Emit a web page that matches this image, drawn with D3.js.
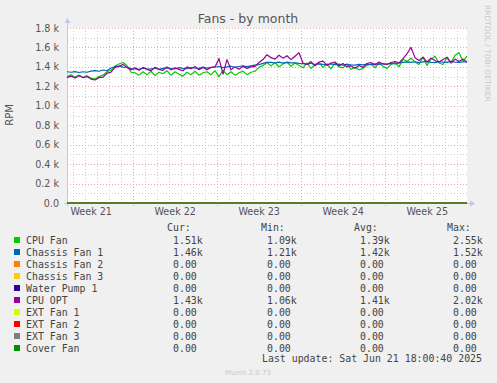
<!DOCTYPE html>
<html>
<head>
<meta charset="utf-8">
<script src="https://cdn.jsdelivr.net/npm/d3@7"></script>
<style>
  html, body { margin: 0; padding: 0; background: #F0F0F0; }
  svg { display: block; }
</style>
</head>
<body>
<svg id="chart" width="497" height="383"></svg>
<script>
// ---------- DATA ----------
// samples every 8 hours (101 points across the month window)
const cpuFan = [
  1300,1320,1295,1315,1290,1310,1285,1275,1300,
  1315,1350,1365,1410,
  1430,1445,1415,1345,
  1340,1315,1350,1320,1355,1310,1345,1330,1360,1315,1350,1325,1305,1345,1320,1355,1315,1340,1350,1320,
  1360,1300,1365,1320,1350,1315,1340,1355,1320,1345,
  1355,1395,1415,1445,
  1410,1445,1400,1430,1450,1405,1440,1415,
  1390,1440,1385,1425,1445,1395,1430,1380,1440,1400,1390,1430,
  1375,1395,1370,1385,
  1415,1430,1390,1440,1405,1385,1425,1445,1400,
  1480,1455,1490,1450,
  1425,1500,1415,1480,1510,1440,1425,1495,1445,1520,1545,1460,1510
];
const chassisFan1 = [
  1350,1345,1352,1342,1350,1345,1357,1362,1355,1368,1360,1388,1402,
  1408,1398,1395,1382,
  1380,1375,1386,1380,1378,1388,1376,1384,1390,1383,1378,1392,1385,1382,1394,1386,1384,1397,1388,1394,
  1399,1404,1393,1401,1407,1396,1404,1410,1403,1411,
  1418,1424,1436,1446,
  1447,1440,1449,1438,1446,1441,1442,1436,
  1434,1426,1437,1423,1431,1426,1424,1431,1423,1429,1418,1426,1421,1419,1426,1420,1429,1423,1431,1426,1434,1429,1437,1431,1440,
  1446,1452,1446,1453,1444,1451,1456,1446,1444,1453,1449,1446,1456,1449,1447,1453,1450
];
const cpuOpt = [
  1290,1305,1285,1310,1290,1300,1275,1265,1290,
  1295,1335,1345,1395,
  1405,1425,1395,1370,
  1390,1365,1395,1375,1360,1395,1375,1365,1400,1370,1390,1375,1360,1400,1380,1405,1370,1395,1370,1395,
  1400,1485,1325,1475,1370,
  1400,1375,1405,1385,1400,
  1405,1445,1475,1525,
  1495,1480,1520,1490,1515,1475,1510,1545,
  1440,1425,1455,1410,1450,1460,1415,1440,1450,1410,1435,1400,
  1410,1385,1415,1395,
  1435,1445,1420,1450,1430,1425,1445,1455,1440,
  1485,1535,1600,1495,
  1465,1500,1450,1490,1465,1450,1475,1500,1440,1480,1455,1480,1450
];
// constant-zero series: value at window start and window end
const chassisFan2 = [0, 0];
const chassisFan3 = [0, 0];
const waterPump1 = [0, 0];
const extFan1 = [0, 0];
const extFan2 = [0, 0];
const extFan3 = [0, 0];
const coverFan = [0, 0];

const seriesNames = ["CPU Fan","Chassis Fan 1","Chassis Fan 2","Chassis Fan 3","Water Pump 1","CPU OPT","EXT Fan 1","EXT Fan 2","EXT Fan 3","Cover Fan"];
const seriesColors = ["#00CC00","#0066B3","#FF8000","#FFCC00","#330099","#990099","#CCFF00","#FF0000","#808080","#008F00"];
const seriesValues = [cpuFan, chassisFan1, chassisFan2, chassisFan3, waterPump1, cpuOpt, extFan1, extFan2, extFan3, coverFan];

const curVals = ["1.51k","1.46k","0.00","0.00","0.00","1.43k","0.00","0.00","0.00","0.00"];
const minVals = ["1.09k","1.21k","0.00","0.00","0.00","1.06k","0.00","0.00","0.00","0.00"];
const avgVals = ["1.39k","1.42k","0.00","0.00","0.00","1.41k","0.00","0.00","0.00","0.00"];
const maxVals = ["2.55k","1.52k","0.00","0.00","0.00","2.02k","0.00","0.00","0.00","0.00"];

const yTicks = [0,200,400,600,800,1000,1200,1400,1600,1800];
const yTickLabels = ["0.0","0.2 k","0.4 k","0.6 k","0.8 k","1.0 k","1.2 k","1.4 k","1.6 k","1.8 k"];
const weekStartDays = [5.475, 12.475, 19.475, 26.475];   // week boundaries (days from window start)
const weekLabelDays = [1.975, 8.975, 15.975, 22.975, 29.975];
const weekLabels = ["Week 21","Week 22","Week 23","Week 24","Week 25"];
const windowDays = 33.333;
const sampleDaysSpan = 33.333;

// ---------- CHART ----------
const svg = d3.select("#chart");
const L = 67, R = 467, T = 28, B = 203;
const x = d3.scaleLinear().domain([0, windowDays]).range([L, R]);
const y = d3.scaleLinear().domain([0, 1800]).range([B, T]);

svg.append("rect").attr("x",0).attr("y",0).attr("width",497).attr("height",383).attr("fill","#F0F0F0");
svg.append("rect").attr("x",L).attr("y",T).attr("width",R-L).attr("height",B-T).attr("fill","#FFFFFF");

const grid = svg.append("g");
// minor horizontal
const minorY = d3.range(100, 1800, 200);
grid.selectAll(".mh").data(minorY).enter().append("line")
  .attr("x1", L).attr("x2", R)
  .attr("y1", d => Math.round(y(d)) + 0.5).attr("y2", d => Math.round(y(d)) + 0.5)
  .attr("stroke", "#CFCFCF").attr("stroke-dasharray", "1,2");
// minor vertical (daily)
const minorX = d3.range(0.475, windowDays, 1).filter(d => !weekStartDays.some(w => Math.abs(w - d) < 0.01));
grid.selectAll(".mv").data(minorX).enter().append("line")
  .attr("y1", T).attr("y2", B)
  .attr("x1", d => Math.round(x(d)) + 0.5).attr("x2", d => Math.round(x(d)) + 0.5)
  .attr("stroke", "#CFCFCF").attr("stroke-dasharray", "1,2");
// major horizontal
grid.selectAll(".Mh").data(yTicks.slice(1)).enter().append("line")
  .attr("x1", L).attr("x2", R)
  .attr("y1", d => Math.round(y(d)) + 0.5).attr("y2", d => Math.round(y(d)) + 0.5)
  .attr("stroke", "#EBA5A5").attr("stroke-dasharray", "1,2");
// major vertical
grid.selectAll(".Mv").data(weekStartDays).enter().append("line")
  .attr("y1", T).attr("y2", B + 3)
  .attr("x1", d => Math.round(x(d)) + 0.5).attr("x2", d => Math.round(x(d)) + 0.5)
  .attr("stroke", "#EBA5A5").attr("stroke-dasharray", "1,2");

// axes lines + arrows
const axisCol = "#C4C4F0";
svg.append("line").attr("x1", L+0.5).attr("x2", L+0.5).attr("y1", B+3).attr("y2", T-6).attr("stroke", axisCol);
svg.append("line").attr("x1", L-3).attr("x2", R+3).attr("y1", B+0.5).attr("y2", B+0.5).attr("stroke", axisCol);
svg.append("path").attr("d", `M${L-2.5},${T-5} L${L+3.5},${T-5} L${L+0.5},${T-10} Z`).attr("fill", axisCol);
svg.append("path").attr("d", `M${R+3},${B-2.5} L${R+3},${B+3.5} L${R+8},${B+0.5} Z`).attr("fill", axisCol);

// Y axis labels via d3 axis
const yAxis = d3.axisLeft(y).tickValues(yTicks).tickFormat((d,i) => yTickLabels[i]).tickSize(0).tickPadding(8);
const gy = svg.append("g").attr("transform", `translate(${L},0)`).call(yAxis);
gy.select(".domain").remove();
gy.selectAll("text").attr("font-family", "DejaVu Sans").attr("font-size", "9.6px").attr("fill", "#555");

// X axis labels
const xAxis = d3.axisBottom(x).tickValues(weekLabelDays).tickFormat((d,i) => weekLabels[i]).tickSize(0).tickPadding(5);
const gx = svg.append("g").attr("transform", `translate(0,${B})`).call(xAxis);
gx.select(".domain").remove();
gx.selectAll("text").attr("font-family", "DejaVu Sans").attr("font-size", "9.6px").attr("fill", "#555");

// lines
const line = d3.line()
  .x(d => x(d[0]))
  .y(d => y(d[1]));
seriesValues.forEach((vals, si) => {
  const n = vals.length;
  const pts = vals.map((v, i) => [i * sampleDaysSpan / (n - 1), v]);
  svg.append("path").datum(pts)
    .attr("d", line)
    .attr("fill", "none")
    .attr("stroke", seriesColors[si])
    .attr("stroke-width", 1.2)
    .attr("stroke-linejoin", "round");
});

// title
svg.append("text").attr("x", 248).attr("y", 23).attr("text-anchor", "middle")
  .attr("font-family", "DejaVu Sans").attr("font-size", "12.5px").attr("fill", "#555")
  .text("Fans - by month");

// y label
svg.append("text").attr("transform", "translate(13,115) rotate(-90)").attr("text-anchor", "middle")
  .attr("font-family", "DejaVu Sans").attr("font-size", "10px").attr("fill", "#555")
  .text("RPM");

// watermark
svg.append("text").attr("transform", "translate(485,5) rotate(90)").attr("text-anchor", "start")
  .attr("font-family", "DejaVu Sans").attr("font-size", "7.5px").attr("fill", "#C8C8C8")
  .text("RRDTOOL / TOBI OETIKER");

// legend
const mono = "DejaVu Sans Mono";
const lg = svg.append("g").attr("font-family", mono).attr("font-size", "9.9px").attr("fill", "#444");
const hdrY = 230.5;
[["Cur:",167],["Min:",261],["Avg:",354],["Max:",447]].forEach(h => {
  lg.append("text").attr("x", h[1]).attr("y", hdrY).text(h[0]);
});
seriesNames.forEach((name, i) => {
  const cy = 240 + i * 12;
  lg.append("rect").attr("x", 14).attr("y", cy - 3).attr("width", 6).attr("height", 6).attr("fill", seriesColors[i]);
  lg.append("text").attr("x", 26).attr("y", cy + 3.5).text(name);
  lg.append("text").attr("x", 173).attr("y", cy + 3.5).text(curVals[i]);
  lg.append("text").attr("x", 267).attr("y", cy + 3.5).text(minVals[i]);
  lg.append("text").attr("x", 360).attr("y", cy + 3.5).text(avgVals[i]);
  lg.append("text").attr("x", 453).attr("y", cy + 3.5).text(maxVals[i]);
});
lg.append("text").attr("x", 262).attr("y", 361.5).text("Last update: Sat Jun 21 18:00:40 2025");

svg.append("text").attr("x", 248).attr("y", 375).attr("text-anchor", "middle")
  .attr("font-family", "DejaVu Sans").attr("font-size", "7px").attr("fill", "#C8C8C8")
  .text("Munin 2.0.73");
</script>
</body>
</html>
